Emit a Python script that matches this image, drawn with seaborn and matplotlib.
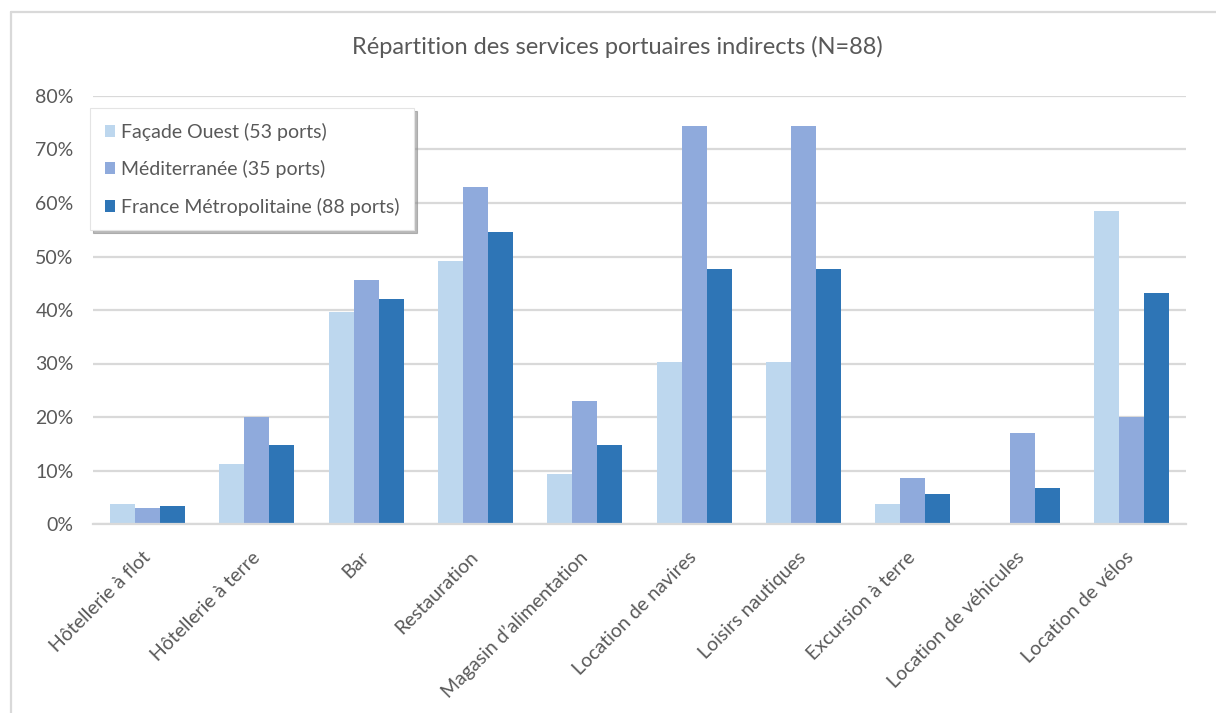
import matplotlib
matplotlib.use("Agg")
import matplotlib.pyplot as plt
from matplotlib.lines import Line2D
from matplotlib.patches import Patch
from matplotlib.ticker import PercentFormatter
import seaborn as sns
import pandas as pd

# Service categories (x axis)
categories = [
    "Hôtellerie à flot", "Hôtellerie à terre", "Bar", "Restauration",
    "Magasin d’alimentation", "Location de navires", "Loisirs nautiques",
    "Excursion à terre", "Location de véhicules", "Location de vélos",
]

series_names = [
    "Façade Ouest (53 ports)",
    "Méditerranée (35 ports)",
    "France Métropolitaine (88 ports)",
]

# Share of ports offering each service, in percent
facade_ouest = [3.8, 11.3, 39.6, 49.1, 9.4, 30.2, 30.2, 3.8, 0.0, 58.5]
mediterranee = [2.9, 20.0, 45.7, 62.9, 22.9, 74.3, 74.3, 8.6, 17.1, 20.0]
france_metro = [3.4, 14.8, 42.0, 54.5, 14.8, 47.7, 47.7, 5.7, 6.8, 43.2]

y_ticks = [0, 10, 20, 30, 40, 50, 60, 70, 80]
title = "Répartition des services portuaires indirects (N=88)"

palette = ["#BDD7EE", "#8FAADC", "#2E75B6"]
text_color = "#595959"
grid_color = "#D9D9D9"

df = pd.DataFrame({
    "service": categories * 3,
    "serie": [series_names[0]] * 10 + [series_names[1]] * 10 + [series_names[2]] * 10,
    "valeur": facade_ouest + mediterranee + france_metro,
})

sns.set_theme(style="white")
plt.rcParams["font.family"] = ["Lato", "DejaVu Sans"]

fig = plt.figure(figsize=(12.16, 7.13), dpi=100)
ax = fig.add_axes([93 / 1216, 1 - 524 / 713, (1186 - 93) / 1216, (524 - 96) / 713])

sns.barplot(
    data=df, x="service", y="valeur", hue="serie", order=categories,
    hue_order=series_names, palette=palette, width=0.686, gap=0,
    saturation=1, ax=ax, legend=False, linewidth=0,
)

ax.set_xlim(-0.5, len(categories) - 0.5)
ax.set_ylim(0, 80)
ax.set_yticks(y_ticks)
ax.yaxis.set_major_formatter(PercentFormatter(decimals=0))
ax.grid(axis="y", color=grid_color, linewidth=1.6)
ax.set_axisbelow(True)
for side in ["left", "right", "top"]:
    ax.spines[side].set_visible(False)
ax.spines["bottom"].set_color(grid_color)
ax.spines["bottom"].set_linewidth(1.6)
ax.set_xlabel("")
ax.set_ylabel("")
ax.tick_params(axis="both", length=0, colors=text_color, labelsize=14)
ax.tick_params(axis="y", pad=14)
ax.set_xticks(range(len(categories)))
ax.set_xticklabels(categories, rotation=45, ha="right", va="center",
                   rotation_mode="anchor", color=text_color, fontsize=14)
ax.tick_params(axis="x", pad=22)

handles = [Patch(facecolor=c, edgecolor="none") for c in palette]
leg = ax.legend(
    handles, series_names, loc="upper left",
    bbox_to_anchor=((90 - 93) / 1093, (524 - 108) / 428),
    frameon=True, fancybox=False, shadow={"color": "0.55", "alpha": 0.6},
    edgecolor="#E4E4E4", facecolor="white", fontsize=14,
    handlelength=0.55, handleheight=0.55, handletextpad=0.3,
    labelspacing=1.0, borderpad=0.75, borderaxespad=0,
)
for t in leg.get_texts():
    t.set_color(text_color)
leg.get_frame().set_linewidth(0.8)

fig.text(0.508, 1 - 47 / 713, title, ha="center", va="center",
         color=text_color, fontsize=17)

# Thin chart border along the top and left edges
fig.add_artist(Line2D([11 / 1216, 1], [1 - 12 / 713] * 2, color=grid_color,
                      linewidth=1.6, transform=fig.transFigure))
fig.add_artist(Line2D([11 / 1216] * 2, [0, 1 - 12 / 713], color=grid_color,
                      linewidth=1.6, transform=fig.transFigure))

fig.savefig("out.png", dpi=100, facecolor="white")
